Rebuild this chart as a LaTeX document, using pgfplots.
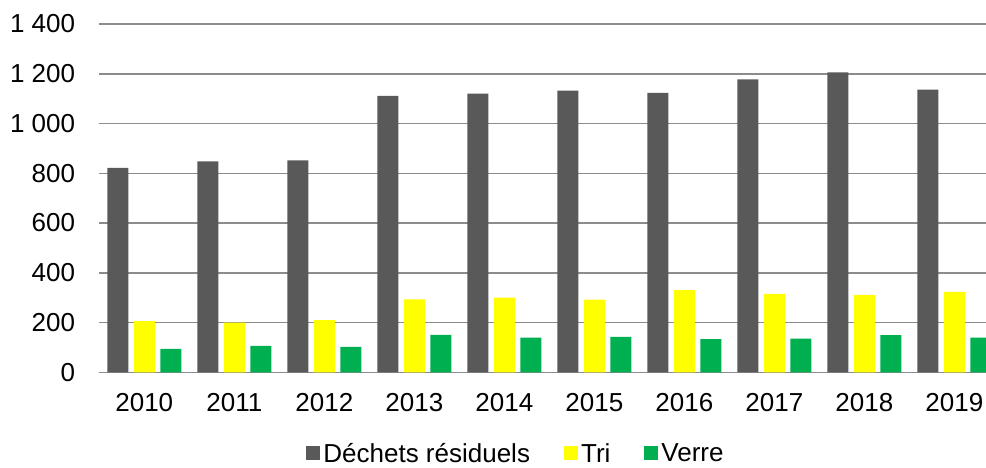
\documentclass[border=0pt]{standalone}
\usepackage{pgfplots}
\pgfplotsset{compat=1.18}
\usepackage{fontspec}
\setmainfont{Liberation Sans}
\definecolor{cdark}{HTML}{595959}
\definecolor{cyel}{HTML}{FFFF00}
\definecolor{cgreen}{HTML}{00B050}
\definecolor{cgrid}{HTML}{8C8C8C}
\begin{document}
\begin{tikzpicture}
\begin{axis}[
  scale only axis,
  width=886.7pt, height=348.25pt,
  xmin=-0.5, xmax=9.352,
  ymin=0, ymax=1400,
  ybar=5.5pt, bar width=21pt,
  xtick={0,...,9},
  xticklabels={2010,2011,2012,2013,2014,2015,2016,2017,2018,2019},
  ytick={0,200,...,1400},
  yticklabels={0,200,400,600,800,1 000,1 200,1 400},
  major tick length=0pt,
  tick style={draw=none},
  axis line style={draw=none},
  ymajorgrids,
  grid style={cgrid, line width=1.5pt},
  tick label style={font=\fontsize{26}{31}\selectfont, inner sep=0pt},
  yticklabel style={anchor=east, xshift=-24pt},
  xticklabel style={anchor=north, yshift=-20.7pt},
  legend columns=3,
  legend style={draw=none, fill=none, at={(0.4705,-0.233)}, anchor=center,
    font=\fontsize{26}{31}\selectfont, inner sep=0pt,
    /tikz/every even column/.append style={column sep=30pt},
    nodes={inner xsep=3.5pt, inner ysep=0pt}},
  legend image code/.code={\fill[#1] (0pt,-7pt) rectangle (14pt,7pt);},
]
\addplot[draw=none, fill=cdark] coordinates {(0,822) (1,848) (2,852) (3,1111) (4,1120) (5,1132) (6,1123) (7,1178) (8,1206) (9,1136)};
\addplot[draw=none, fill=cyel] coordinates {(0,206) (1,200) (2,210) (3,293) (4,300) (5,292) (6,330) (7,315) (8,311) (9,323)};
\addplot[draw=none, fill=cgreen] coordinates {(0,94) (1,106) (2,102) (3,150) (4,139) (5,142) (6,133) (7,135) (8,149) (9,139)};
\legend{Déchets résiduels, Tri, Verre}
\end{axis}
\pgfresetboundingbox
\path[use as bounding box] ([xshift=-99.3pt,yshift=-95.7pt]current axis.south west) rectangle ([yshift=24.05pt]current axis.north east);
\end{tikzpicture}
\end{document}
